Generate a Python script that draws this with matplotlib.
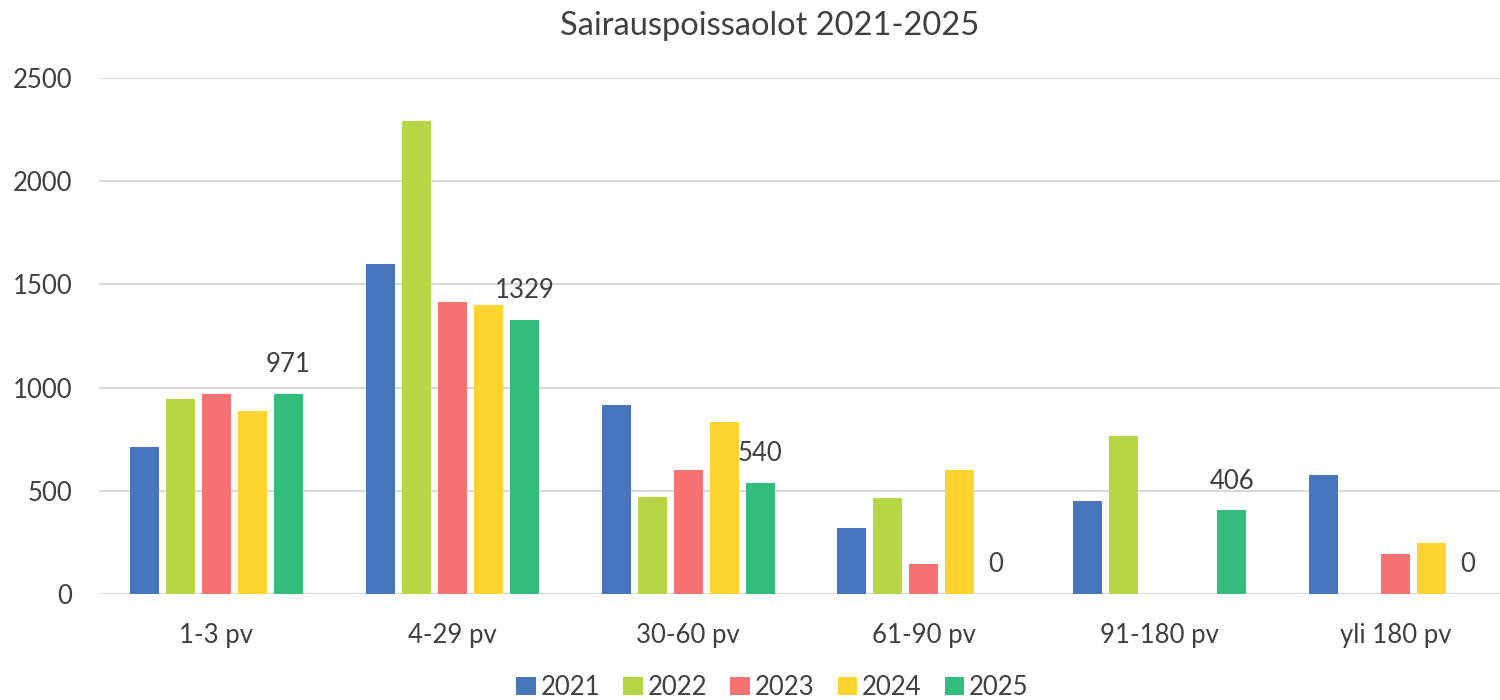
import matplotlib
matplotlib.use("Agg")
import matplotlib.pyplot as plt
import numpy as np

categories = ["1-3 pv", "4-29 pv", "30-60 pv", "61-90 pv", "91-180 pv", "yli 180 pv"]
years = ["2021", "2022", "2023", "2024", "2025"]
v2021 = [710, 1597, 917, 321, 453, 575]
v2022 = [947, 2292, 472, 467, 765, 0]
v2023 = [967, 1413, 599, 145, 0, 194]
v2024 = [889, 1400, 834, 599, 0, 248]
v2025 = [971, 1329, 540, 0, 406, 0]
series = [v2021, v2022, v2023, v2024, v2025]
colors = ["#4677BC", "#B8D645", "#F47272", "#FFD42E", "#33BD7C"]

plt.rcParams['font.family'] = ['Lato', 'DejaVu Sans']
txt = "#404040"

fig = plt.figure(figsize=(15, 7), dpi=100)
ax = fig.add_axes([98.6/1500, 1-594/700, 1414.8/1500, (594-78)/700])

x = np.arange(len(categories))
step = 0.1527
width = 0.123
for i, (vals, col, yr) in enumerate(zip(series, colors, years)):
    bars = ax.bar(x + (i-2)*step, vals, width, color=col, label=yr, zorder=3)
    if yr == "2025":
        ax.bar_label(bars, labels=[f"{v}" for v in vals], padding=12,
                     fontsize=18.5, color=txt)

ax.set_xlim(-0.5, len(categories)-0.5)
ax.set_ylim(0, 2500)
ax.set_yticks([0, 500, 1000, 1500, 2000, 2500])
ax.set_xticks(x)
ax.set_xticklabels(categories)
ax.yaxis.grid(True, color="#D9D9D9", linewidth=1.5, zorder=0)
ax.set_axisbelow(True)
for s in ax.spines.values():
    s.set_visible(False)
ax.tick_params(axis='both', length=0, labelsize=18.5, labelcolor=txt)
ax.tick_params(axis='x', pad=21)
ax.tick_params(axis='y', pad=19)

fig.text(0.513, 1-35/700, "Sairauspoissaolot 2021-2025", ha='center', va='baseline',
         fontsize=23.5, color=txt)

fig.legend(loc='center', bbox_to_anchor=(0.515, 0.018), ncol=5, frameon=False,
           fontsize=18.5, labelcolor=txt, handlelength=0.75, handleheight=0.75,
           handletextpad=0.2, columnspacing=0.9)

fig.savefig("out.png", dpi=100)
